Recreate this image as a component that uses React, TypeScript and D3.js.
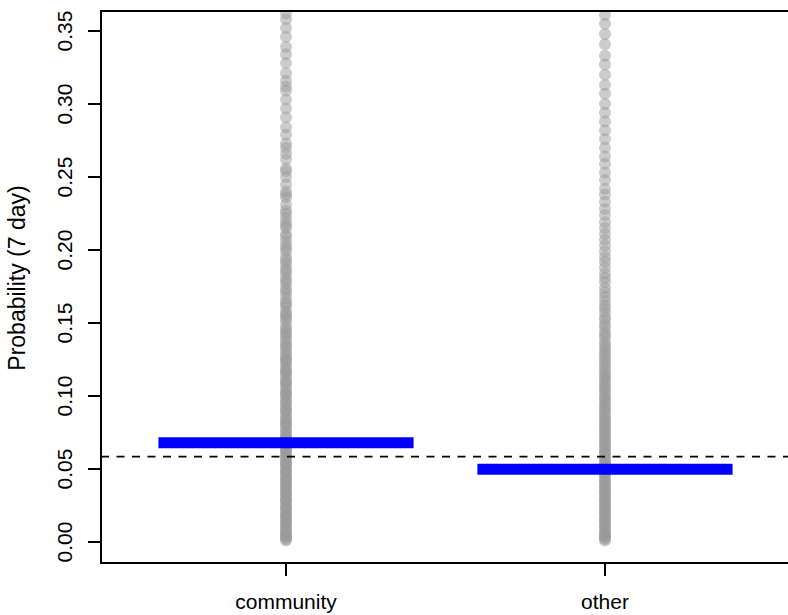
import React from "react";
import * as d3 from "d3";

const categories = ["community", "other"];
const groupMeans = [0.068, 0.0498];
const overallMean = 0.0584;
const yTicks = [0, 0.05, 0.1, 0.15, 0.2, 0.25, 0.3, 0.35];

const communityProbs = [
  0.001, 0.002, 0.003, 0.004, 0.005, 0.006, 0.007, 0.008, 0.009, 0.011, 0.012, 0.013, 0.014, 0.015, 0.017, 0.018,
  0.019, 0.020, 0.022, 0.023, 0.024, 0.025, 0.027, 0.028, 0.029, 0.030, 0.032, 0.033, 0.034, 0.035, 0.037, 0.038,
  0.039, 0.040, 0.042, 0.043, 0.044, 0.045, 0.047, 0.048, 0.049, 0.050, 0.052, 0.053, 0.054, 0.055, 0.057, 0.058,
  0.059, 0.061, 0.062, 0.063, 0.064, 0.066, 0.067, 0.068, 0.069, 0.071, 0.072, 0.073, 0.075, 0.076, 0.078, 0.080,
  0.081, 0.082, 0.084, 0.085, 0.087, 0.089, 0.090, 0.091, 0.093, 0.095, 0.096, 0.098, 0.100, 0.101, 0.102, 0.104,
  0.106, 0.108, 0.109, 0.110, 0.112, 0.114, 0.116, 0.117, 0.118, 0.120, 0.122, 0.124, 0.125, 0.126, 0.128, 0.130,
  0.132, 0.134, 0.135, 0.137, 0.139, 0.141, 0.143, 0.144, 0.146, 0.148, 0.151, 0.153, 0.155, 0.156, 0.158, 0.161,
  0.163, 0.164, 0.167, 0.170, 0.172, 0.174, 0.177, 0.179, 0.181, 0.184, 0.186, 0.188, 0.191, 0.193, 0.195, 0.199,
  0.201, 0.203, 0.206, 0.209, 0.211, 0.215, 0.217, 0.219, 0.222, 0.225, 0.227, 0.231, 0.236, 0.238, 0.240, 0.245,
  0.250, 0.254, 0.256, 0.262, 0.266, 0.270, 0.273, 0.279, 0.284, 0.291, 0.297, 0.303, 0.309, 0.312, 0.316, 0.321,
  0.328, 0.334, 0.339, 0.346, 0.352, 0.358, 0.362,
];

const otherProbs = [
  0.001, 0.002, 0.003, 0.004, 0.005, 0.006, 0.007, 0.009, 0.010, 0.011, 0.012, 0.014, 0.015, 0.016, 0.017, 0.019,
  0.020, 0.021, 0.023, 0.024, 0.025, 0.026, 0.028, 0.029, 0.030, 0.031, 0.033, 0.034, 0.035, 0.037, 0.038, 0.039,
  0.041, 0.042, 0.043, 0.045, 0.046, 0.047, 0.049, 0.050, 0.051, 0.053, 0.054, 0.055, 0.057, 0.058, 0.060, 0.061,
  0.062, 0.064, 0.065, 0.067, 0.068, 0.070, 0.071, 0.073, 0.074, 0.076, 0.077, 0.079, 0.080, 0.082, 0.083, 0.085,
  0.086, 0.088, 0.090, 0.091, 0.093, 0.094, 0.096, 0.098, 0.099, 0.101, 0.103, 0.105, 0.106, 0.108, 0.110, 0.112,
  0.113, 0.115, 0.117, 0.119, 0.121, 0.123, 0.125, 0.127, 0.129, 0.131, 0.133, 0.135, 0.137, 0.140, 0.142, 0.144,
  0.147, 0.149, 0.152, 0.154, 0.157, 0.160, 0.162, 0.165, 0.168, 0.171, 0.174, 0.178, 0.181, 0.184, 0.188, 0.192,
  0.195, 0.199, 0.203, 0.207, 0.211, 0.215, 0.219, 0.224, 0.228, 0.233, 0.238, 0.242, 0.248, 0.253, 0.259, 0.264,
  0.270, 0.276, 0.282, 0.288, 0.294, 0.300, 0.307, 0.313, 0.320, 0.327, 0.333, 0.341, 0.348, 0.355, 0.361,
];

const W = 788;
const H = 615;
const M = { left: 101, top: 11, right: 790, bottom: 563 };

export default function App() {
  const x = d3.scaleLinear().domain([0.42, 2.58]).range([M.left, M.right]);
  const y = d3.scaleLinear().domain([-0.0144, 0.3637]).range([M.bottom, M.top]);
  const series = [communityProbs, otherProbs];
  const font = "'Liberation Sans', Arial, Helvetica, sans-serif";

  return (
    <svg width={W} height={H} style={{ position: "absolute", left: 0, top: 0, background: "#fff" }}>
      <defs>
        <clipPath id="plotclip">
          <rect x={M.left} y={M.top} width={M.right - M.left} height={M.bottom - M.top} />
        </clipPath>
      </defs>
      <g clipPath="url(#plotclip)">
        {series.map((vals, i) =>
          vals.map((v, j) => (
            <circle key={`${i}-${j}`} cx={x(i + 1)} cy={y(v)} r={6} fill="#999999" fillOpacity={0.5} />
          ))
        )}
        {groupMeans.map((m, i) => (
          <line
            key={`m${i}`}
            x1={x(i + 1 - 0.4)}
            x2={x(i + 1 + 0.4)}
            y1={y(m)}
            y2={y(m)}
            stroke="#0000ff"
            strokeWidth={11}
          />
        ))}
        <line
          x1={M.left}
          x2={M.right}
          y1={y(overallMean)}
          y2={y(overallMean)}
          stroke="#000"
          strokeWidth={1.8}
          strokeDasharray="8,7.5"
        />
      </g>
      <rect
        x={M.left}
        y={M.top}
        width={M.right - M.left}
        height={M.bottom - M.top}
        fill="none"
        stroke="#000"
        strokeWidth={2}
      />
      {yTicks.map((t) => (
        <g key={t}>
          <line x1={M.left - 13} x2={M.left} y1={y(t)} y2={y(t)} stroke="#000" strokeWidth={2} />
          <text
            transform={`translate(72,${y(t)}) rotate(-90)`}
            textAnchor="middle"
            fontFamily={font}
            fontSize={21}
            fill="#000"
          >
            {d3.format(".2f")(t)}
          </text>
        </g>
      ))}
      {categories.map((c, i) => (
        <g key={c}>
          <line x1={x(i + 1)} x2={x(i + 1)} y1={M.bottom} y2={M.bottom + 13} stroke="#000" strokeWidth={2} />
          <text x={x(i + 1)} y={609} textAnchor="middle" fontFamily={font} fontSize={21} fill="#000">
            {c}
          </text>
        </g>
      ))}
      <text
        transform={`translate(25,278) rotate(-90)`}
        textAnchor="middle"
        fontFamily={font}
        fontSize={23}
        fill="#000"
      >
        Probability (7 day)
      </text>
    </svg>
  );
}
